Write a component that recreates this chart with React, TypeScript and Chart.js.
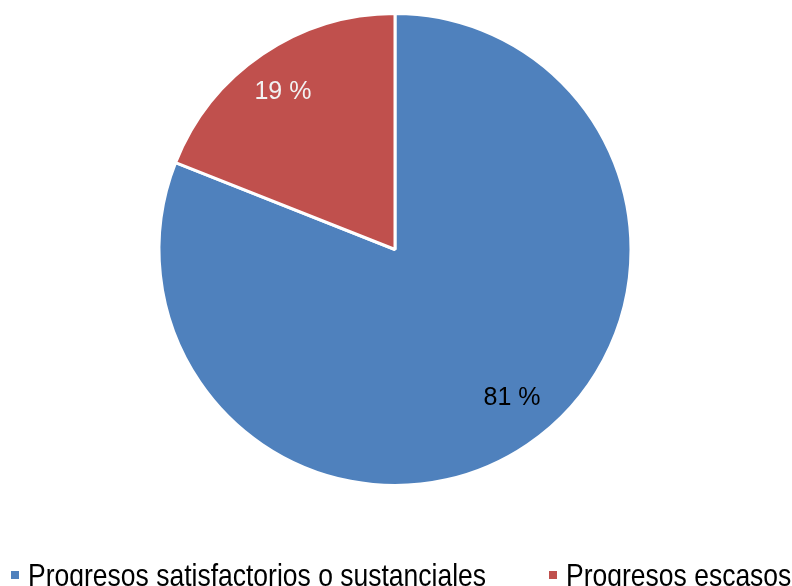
import React, { useEffect, useRef } from "react";
import { Chart, registerables } from "chart.js";

Chart.register(...registerables);

const categories = ["Progresos satisfactorios o sustanciales", "Progresos escasos"];
const values = [81, 19];
const valueLabels = ["81 %", "19 %"];
const sliceColors = ["#4F81BD", "#C0504D"];
const labelColors = ["#000000", "#F2F2F2"];
const labelRadial = [0.797, 0.822];
const labelAngleNudgeDeg = [-4.3, -1.1];

const FONT = "'Liberation Sans', Arial, sans-serif";

const sliceLabelPlugin = {
  id: "sliceLabels",
  afterDatasetsDraw(chart: any) {
    const ctx = chart.ctx;
    const meta = chart.getDatasetMeta(0);
    ctx.save();
    ctx.font = `25px ${FONT}`;
    ctx.textAlign = "center";
    ctx.textBaseline = "middle";
    meta.data.forEach((arc: any, i: number) => {
      const p = arc.getProps(["x", "y", "startAngle", "endAngle", "outerRadius"], true);
      const mid = (p.startAngle + p.endAngle) / 2 + (labelAngleNudgeDeg[i] * Math.PI) / 180;
      const r = p.outerRadius * labelRadial[i];
      const cx = p.x + Math.cos(mid) * r;
      const cy = p.y + Math.sin(mid) * r + 1;
      ctx.save();
      ctx.translate(cx, cy);
      ctx.scale(1, 1.05);
      ctx.fillStyle = labelColors[i];
      ctx.fillText(valueLabels[i], 0, 0);
      ctx.restore();
    });
    ctx.restore();
  },
};

const legendPlugin = {
  id: "bottomLegend",
  afterDraw(chart: any) {
    const ctx = chart.ctx;
    const labels: string[] = chart.data.labels;
    const colors: string[] = chart.data.datasets[0].backgroundColor;
    const boxX = [11, 549];
    ctx.save();
    labels.forEach((lab, i) => {
      ctx.fillStyle = colors[i];
      ctx.fillRect(boxX[i], 571, 8, 8);
      ctx.save();
      ctx.translate(boxX[i] + 17, 563);
      ctx.scale(1, 1.2);
      ctx.font = `26.5px ${FONT}`;
      ctx.textBaseline = "alphabetic";
      ctx.textAlign = "left";
      ctx.fillStyle = "#000000";
      ctx.fillText(lab, 0, 26.5 * 0.716);
      ctx.restore();
    });
    ctx.restore();
  },
};

export default function App() {
  const ref = useRef<HTMLCanvasElement | null>(null);
  useEffect(() => {
    if (!ref.current) return;
    const chart = new Chart(ref.current, {
      type: "pie",
      data: {
        labels: categories,
        datasets: [
          {
            data: values,
            backgroundColor: sliceColors,
            borderColor: "#FFFFFF",
            borderWidth: 3,
          },
        ],
      },
      options: {
        animation: false,
        responsive: false,
        radius: 236,
        layout: { padding: { left: 0, right: 2, top: 0, bottom: 87 } },
        plugins: {
          legend: { display: false },
          tooltip: { enabled: false },
        },
        events: [],
      } as any,
      plugins: [sliceLabelPlugin, legendPlugin],
    });
    return () => chart.destroy();
  }, []);
  return (
    <div style={{ position: "absolute", left: 0, top: 0, width: 792, height: 586, background: "#fff" }}>
      <canvas ref={ref} width={792} height={586} style={{ display: "block", width: 792, height: 586 }} />
    </div>
  );
}
